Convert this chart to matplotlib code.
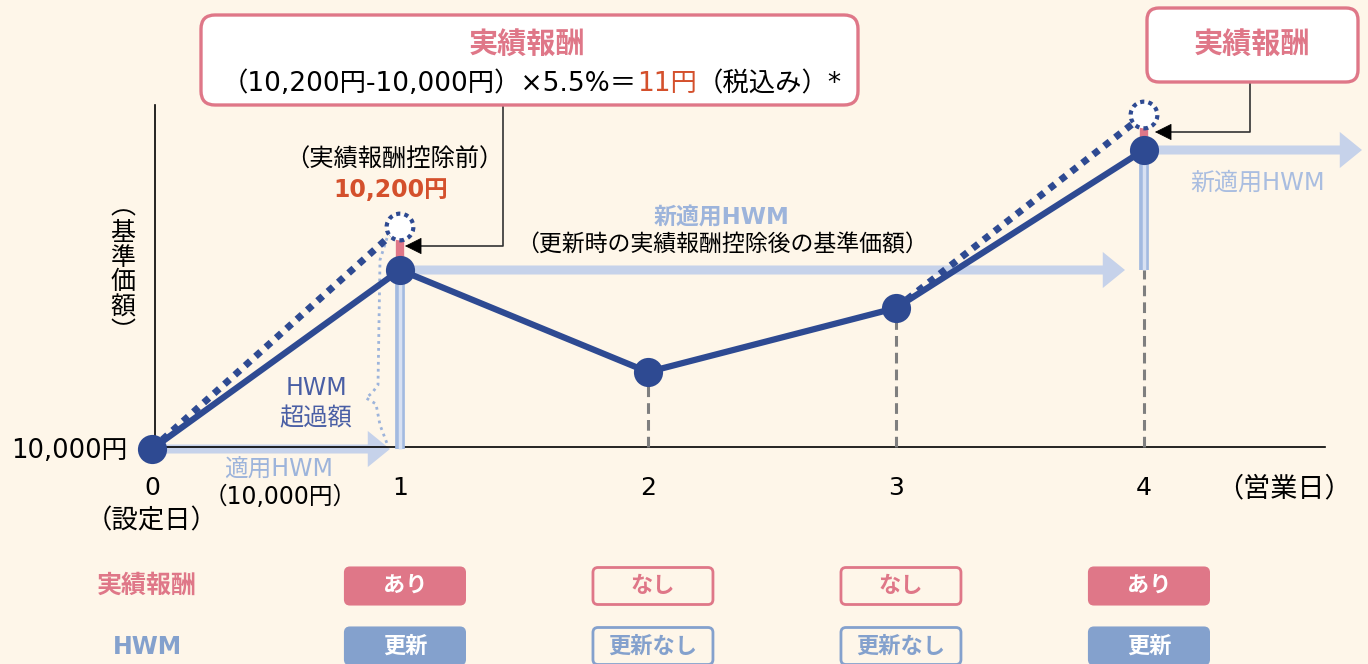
import matplotlib
matplotlib.use("Agg")
import matplotlib.pyplot as plt
from matplotlib.patches import FancyBboxPatch

# wide Verdana-like latin glyphs first, Japanese falls through to Noto CJK
plt.rcParams['font.family'] = ['DejaVu Sans', 'Noto Sans CJK JP']

### DATA ###
# schematic height of the NAV above the 10,000円 start (not to scale)
days = [0, 1, 2, 3, 4]
day_labels = ["0", "1", "2", "3", "4"]
nav_after_fee = [0, 179, 77, 141, 299]
fee_days = [1, 4]
nav_before_fee = [222, 334]
fee_status = ["あり", "なし", "なし", "あり"]
hwm_status = ["更新", "更新なし", "更新なし", "更新"]
fee_charged = [True, False, False, True]

### STYLE ###
BG = "#FEF6E9"
NAVY = "#2E4A92"
LIGHT = "#C6D2EA"
BAR_EDGE = "#A3BAE0"
BAR_FILL = "#D8E1F2"
PINK = "#DF7788"
RED = "#D4502C"
HWM_TXT = "#9DB4DB"
TABLE_BLUE = "#84A1CD"
GRAY = "#7F7F7F"

PX_PER_DAY = 248


def X(p):
    """pixel column -> day units (layout helper)"""
    return (p - 152) / PX_PER_DAY


def Y(p):
    """pixel row -> schematic level (layout helper)"""
    return 449 - p


def rbox(ax, x0, y0, w, h, radius_px, **kw):
    box = FancyBboxPatch((x0, y0), w, h,
                         boxstyle=f"round,pad=0,rounding_size={radius_px / PX_PER_DAY}",
                         mutation_aspect=PX_PER_DAY, **kw)
    ax.add_patch(box)
    return box


fig = plt.figure(figsize=(13.68, 6.64), dpi=100)
fig.patch.set_facecolor(BG)
ax = fig.add_axes([0, 0, 1, 1])
ax.set_facecolor(BG)
ax.set_xlim(X(0), X(1368))
ax.set_ylim(Y(664), Y(0))
ax.axis("off")

# axes lines
ax.plot([X(155), X(155)], [Y(447), Y(105)], color="black", lw=1.2, zorder=2)
ax.plot([X(155), X(1325)], [Y(447), Y(447)], color="black", lw=1.2, zorder=2)

# --- applied HWM arrows ---
hwm_days = [0] + [d for d, f in zip(days[1:], fee_charged) if f]
hwm_levels = [nav_after_fee[d] for d in hwm_days]
hwm_arrow_end = [X(390), X(1125), X(1362)]
for d, lv, xe in zip(hwm_days, hwm_levels, hwm_arrow_end):
    ax.annotate("", xy=(xe, lv), xytext=(d, lv),
                arrowprops=dict(arrowstyle="simple,head_length=16,head_width=26,tail_width=6.5",
                                color=LIGHT, lw=0, shrinkA=0, shrinkB=0, mutation_scale=1),
                zorder=1)

# gray dashed drop lines for days 2-4
for d in days[2:]:
    ax.plot([d, d], [Y(447), nav_after_fee[d]], color=GRAY, lw=2.2,
            linestyle=(0, (3.5, 2)), zorder=2)

# HWM rise bars (previous HWM -> new HWM)
for i, d in enumerate(hwm_days[1:]):
    ax.plot([d, d], [hwm_levels[i], hwm_levels[i + 1]], color=BAR_EDGE, lw=7,
            solid_capstyle="butt", zorder=3)
    ax.plot([d, d], [hwm_levels[i], hwm_levels[i + 1]], color=BAR_FILL, lw=2.5,
            solid_capstyle="butt", zorder=3)

# performance fee bars
for d, b in zip(fee_days, nav_before_fee):
    ax.plot([d, d], [nav_after_fee[d], b], color=PINK, lw=6,
            solid_capstyle="butt", zorder=3)

# dotted pre-fee path
for d, b in zip(fee_days, nav_before_fee):
    ax.plot([d - 1, d], [nav_after_fee[d - 1], b], color=NAVY, lw=5,
            linestyle=(0, (1, 1)), dash_capstyle="butt", zorder=4)

# NAV line and points
ax.plot(days, nav_after_fee, color=NAVY, lw=4.5, solid_joinstyle="round", zorder=5,
        marker="o", markersize=21, markerfacecolor=NAVY, markeredgewidth=0)
ax.scatter(fee_days, nav_before_fee, s=370, facecolors="white", edgecolors=NAVY,
           linewidths=3, linestyles=(0, (1, 1)), zorder=6)

# HWM excess brace (light dotted)
ax.plot([X(387), X(380), X(378), X(372), X(366), X(376), X(380), X(388)],
        [Y(238), Y(260), Y(385), Y(393), Y(398), Y(404), Y(425), Y(446)],
        color=HWM_TXT, lw=2, linestyle=(0, (1, 1.5)), zorder=2)

# --- tick labels ---
for d, lab in zip(days, day_labels):
    ax.text(d, Y(488), lab, fontsize=18, ha="center", va="center")
ax.text(0, Y(521), "（設定日）", fontsize=19, ha="center", va="center")
ax.text(X(1284), Y(489), "（営業日）", fontsize=19.5, ha="center", va="center")
ax.text(X(128), Y(451), "10,000円", fontsize=18.5, ha="right", va="center")
ax.text(X(123), Y(270), "︵\n基\n準\n価\n額\n︶", fontsize=18, ha="center",
        va="center", linespacing=1.05)

# --- annotations ---
ax.text(X(394), Y(160), "（実績報酬控除前）", fontsize=17.5, ha="center", va="center")
ax.text(X(391), Y(190), "10,200円", fontsize=17, fontweight="bold", color=RED,
        ha="center", va="center")
ax.text(X(722), Y(217), "新適用HWM", fontsize=16.5, fontweight="bold", color=HWM_TXT,
        ha="center", va="center")
ax.text(X(722), Y(245), "（更新時の実績報酬控除後の基準価額）", fontsize=16.5,
        ha="center", va="center")
ax.text(X(1258), Y(183), "新適用HWM", fontsize=17.3, color="#A9BDE0",
        ha="center", va="center")
ax.text(X(316), Y(388), "HWM", fontsize=17, color="#4A5FA5", ha="center", va="center")
ax.text(X(316), Y(418), "超過額", fontsize=17.5, color="#4A5FA5", ha="center", va="center")
ax.text(X(279), Y(470), "適用HWM", fontsize=17, color=HWM_TXT, ha="center", va="center")
ax.text(X(280), Y(497), "（10,000円）", fontsize=17, ha="center", va="center")

# --- fee callout boxes ---
rbox(ax, X(201), Y(105), (858 - 201) / PX_PER_DAY, 90, 14,
     facecolor="white", edgecolor=PINK, lw=2.4, zorder=7)
ax.text(X(527), Y(45), "実績報酬", fontsize=21, fontweight="bold", color=PINK,
        ha="center", va="center", zorder=8)
t1 = ax.text(X(222), Y(97), "（10,200円-10,000円）×5.5%＝", fontsize=19,
             ha="left", va="bottom", zorder=8)
t2 = ax.annotate("11円", xy=(1, 0), xycoords=t1, fontsize=19, color=RED,
                 ha="left", va="bottom", zorder=8)
ax.annotate("（税込み）*", xy=(1, 0), xycoords=t2, fontsize=19,
            ha="left", va="bottom", zorder=8)

rbox(ax, X(1147), Y(82), (1358 - 1147) / PX_PER_DAY, 74, 12,
     facecolor="white", edgecolor=PINK, lw=2.4, zorder=7)
ax.text(X(1252), Y(45), "実績報酬", fontsize=21, fontweight="bold", color=PINK,
        ha="center", va="center", zorder=8)

# leader arrows
for bx, by, ty, tx in [(503, 105, 246, 405), (1250, 82, 132, 1155)]:
    ax.plot([X(bx), X(bx), X(tx + 10)], [Y(by), Y(ty), Y(ty)], color="#333333",
            lw=1.2, zorder=6)
    ax.annotate("", xy=(X(tx), Y(ty)), xytext=(X(tx + 14), Y(ty)),
                arrowprops=dict(arrowstyle="-|>,head_length=1.0,head_width=0.5",
                                color="black", lw=0.5, shrinkA=0, shrinkB=0,
                                mutation_scale=11), zorder=6)

# --- bottom table ---
ax.text(X(147), Y(586), "実績報酬", fontsize=18, fontweight="bold", color=PINK,
        ha="center", va="center")
ax.text(X(147), Y(647), "HWM", fontsize=17, fontweight="bold", color=TABLE_BLUE,
        ha="center", va="center")
box_w = 120 / PX_PER_DAY
box_h = 37
for d, fs, hs, on in zip(days[1:], fee_status, hwm_status, fee_charged):
    cx = d + 0.02
    for row_y, label, col in [(Y(586), fs, PINK), (Y(646), hs, TABLE_BLUE)]:
        if on:
            rbox(ax, cx - box_w / 2, row_y - box_h / 2, box_w, box_h, 5,
                 facecolor=col, edgecolor=col, lw=1.5, zorder=3)
            tc = "white"
        else:
            rbox(ax, cx - box_w / 2, row_y - box_h / 2, box_w, box_h, 5,
                 facecolor=BG, edgecolor=col, lw=2, zorder=3)
            tc = col
        ax.text(cx, row_y, label, fontsize=16, fontweight="bold", color=tc,
                ha="center", va="center", zorder=4)

fig.savefig("out.png", dpi=100, facecolor=BG)
